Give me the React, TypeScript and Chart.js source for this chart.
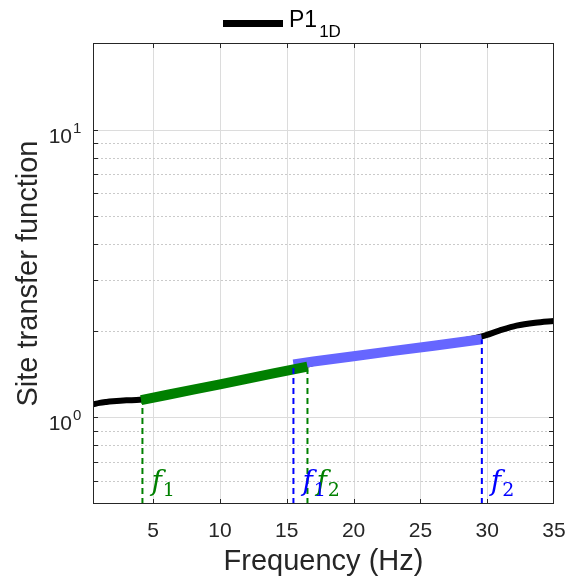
import React, { useEffect, useRef } from 'react';
import { Chart, registerables } from 'chart.js';

Chart.register(...registerables);

// ---------- data ----------
const freqBlack = [0.5, 1, 1.5, 2, 3, 4, 6, 8, 10, 12, 14, 16, 18, 20, 23, 26, 29.6, 30.9, 32.2, 33.6, 35];
const tfBlack = [1.11, 1.123, 1.131, 1.137, 1.146, 1.151, 1.196, 1.249, 1.303, 1.361, 1.421, 1.5, 1.585, 1.632, 1.705, 1.778, 1.912, 2.002, 2.084, 2.134, 2.164];

const freqGreen = [4.1, 6, 8, 10, 12, 14, 16.55];
const tfGreen = [1.148, 1.196, 1.249, 1.303, 1.361, 1.421, 1.5];

const freqBlue = [15.5, 17, 20, 23, 26, 29.6];
const tfBlue = [1.528, 1.563, 1.63, 1.703, 1.775, 1.869];

// vertical markers: frequency, curve value at top, colour, subscript
const markerFreq = [4.2, 16.55, 15.5, 29.6];
const markerTop = [1.15, 1.5, 1.528, 1.87];
const markerColor = ['#008000', '#008000', '#0000ff', '#0000ff'];
const markerSub = ['1', '2', '1', '2'];

const xTickStep = 5;
const xMin = 0.5;
const xMax = 35;
const yMin = 0.5;
const yMax = 20;
const yTickValues = [1, 10];
const yTickExps = ['0', '1'];

const legendMain = 'P1';
const legendSub = '1D';
const xTitle = 'Frequency (Hz)';
const yTitle = 'Site transfer function';

const SANS = '"Liberation Sans", Arial, sans-serif';
const SERIF = '"DejaVu Serif", "Liberation Serif", serif';
const TXT = '#262626';

const toPts = (xs: number[], ys: number[]) => xs.map((x, i) => ({ x, y: ys[i] }));

const isDecadeStep = (v: number) => {
  const e = Math.floor(Math.log10(v) + 1e-9);
  const s = v / Math.pow(10, e);
  return Math.abs(s - Math.round(s)) < 1e-6;
};

const decor = {
  id: 'decor',
  beforeDatasetsDraw(chart: any) {
    const { ctx, chartArea: a, scales } = chart;
    const xs = scales.x;
    const ys = scales.y;
    ctx.save();
    ctx.lineWidth = 1;
    ctx.strokeStyle = '#dcdcdc';
    ctx.setLineDash([]);
    for (const t of xs.ticks) {
      if (t.value <= xs.min || t.value >= xs.max) continue;
      const px = Math.round(xs.getPixelForValue(t.value)) + 0.5;
      ctx.beginPath();
      ctx.moveTo(px, a.top);
      ctx.lineTo(px, a.bottom);
      ctx.stroke();
    }
    for (const t of ys.ticks) {
      const v = t.value;
      if (v <= ys.min || v >= ys.max || !isDecadeStep(v)) continue;
      const py = Math.round(ys.getPixelForValue(v)) + 0.5;
      const lg = Math.log10(v);
      const major = Math.abs(lg - Math.round(lg)) < 1e-9;
      if (major) {
        ctx.setLineDash([]);
        ctx.strokeStyle = '#dcdcdc';
      } else {
        ctx.setLineDash([2, 2]);
        ctx.strokeStyle = '#cacaca';
      }
      ctx.beginPath();
      ctx.moveTo(a.left, py);
      ctx.lineTo(a.right, py);
      ctx.stroke();
    }
    ctx.restore();
  },
  afterDatasetsDraw(chart: any) {
    const { ctx, chartArea: a, scales } = chart;
    const xs = scales.x;
    const ys = scales.y;
    ctx.save();
    // frame
    ctx.setLineDash([]);
    ctx.strokeStyle = TXT;
    ctx.lineWidth = 1;
    ctx.strokeRect(a.left + 0.5, a.top + 0.5, a.right - a.left - 1, a.bottom - a.top - 1);
    // inward ticks
    const tl = 5;
    ctx.beginPath();
    for (const t of xs.ticks) {
      if (t.value <= xs.min || t.value >= xs.max) continue;
      const px = Math.round(xs.getPixelForValue(t.value)) + 0.5;
      ctx.moveTo(px, a.bottom);
      ctx.lineTo(px, a.bottom - tl);
      ctx.moveTo(px, a.top);
      ctx.lineTo(px, a.top + tl);
    }
    for (const t of ys.ticks) {
      if (t.value <= ys.min || t.value >= ys.max || !isDecadeStep(t.value)) continue;
      const py = Math.round(ys.getPixelForValue(t.value)) + 0.5;
      ctx.moveTo(a.left, py);
      ctx.lineTo(a.left + tl, py);
      ctx.moveTo(a.right, py);
      ctx.lineTo(a.right - tl, py);
    }
    ctx.stroke();

    // y tick labels 10^n
    ctx.fillStyle = TXT;
    yTickValues.forEach((v, i) => {
      const py = ys.getPixelForValue(v);
      ctx.font = `21px ${SANS}`;
      ctx.textAlign = 'right';
      ctx.textBaseline = 'alphabetic';
      ctx.fillText('10', 72, py + 13);
      ctx.font = `15px ${SANS}`;
      ctx.textAlign = 'left';
      ctx.fillText(yTickExps[i], 73, py + 3);
    });

    // legend
    ctx.lineWidth = 7;
    ctx.strokeStyle = '#000';
    ctx.beginPath();
    ctx.moveTo(223, 23.5);
    ctx.lineTo(283, 23.5);
    ctx.stroke();
    ctx.fillStyle = '#000';
    ctx.textAlign = 'left';
    ctx.textBaseline = 'alphabetic';
    ctx.font = `23px ${SANS}`;
    ctx.fillText(legendMain, 289, 27);
    const w = ctx.measureText(legendMain).width;
    ctx.font = `17px ${SANS}`;
    ctx.fillText(legendSub, 289 + w + 2, 37);

    // f labels
    markerFreq.forEach((f, i) => {
      const px = xs.getPixelForValue(f) + 9;
      ctx.fillStyle = markerColor[i];
      ctx.font = `italic 28px ${SERIF}`;
      ctx.fillText('f', px, 490);
      const fw = ctx.measureText('f').width;
      ctx.font = `19px ${SERIF}`;
      ctx.fillText(markerSub[i], px + fw + 1, 496);
    });
    ctx.restore();
  },
};

export default function App() {
  const ref = useRef<HTMLCanvasElement>(null);
  useEffect(() => {
    const canvas = ref.current;
    if (!canvas) return;
    const markerSets = markerFreq.map((f, i) => ({
      label: 'marker' + i,
      data: [
        { x: f, y: yMin },
        { x: f, y: markerTop[i] },
      ],
      borderColor: markerColor[i],
      borderWidth: 2,
      borderDash: [6, 4],
      pointRadius: 0,
      tension: 0,
      order: 1,
    }));
    const chart = new Chart(canvas, {
      type: 'line',
      data: {
        datasets: [
          {
            label: 'P1_1D',
            data: toPts(freqBlack, tfBlack),
            borderColor: '#000000',
            borderWidth: 6,
            pointRadius: 0,
            cubicInterpolationMode: 'monotone',
            order: 4,
          },
          {
            label: 'blue',
            data: toPts(freqBlue, tfBlue),
            borderColor: '#6666ff',
            borderWidth: 10,
            pointRadius: 0,
            tension: 0,
            order: 3,
          },
          {
            label: 'green',
            data: toPts(freqGreen, tfGreen),
            borderColor: '#008000',
            borderWidth: 10,
            pointRadius: 0,
            tension: 0,
            order: 2,
          },
          ...markerSets,
        ] as any,
      },
      options: {
        animation: false,
        responsive: true,
        maintainAspectRatio: false,
        layout: { padding: { top: 43, right: 15, left: 0, bottom: 0 } },
        plugins: { legend: { display: false }, tooltip: { enabled: false } },
        scales: {
          x: {
            type: 'linear',
            min: xMin,
            max: xMax,
            grid: { display: false },
            border: { display: false },
            ticks: {
              stepSize: xTickStep,
              includeBounds: false,
              font: { size: 21, family: SANS },
              color: TXT,
              padding: 7,
              maxRotation: 0,
              autoSkip: false,
            },
            title: {
              display: true,
              text: xTitle,
              font: { size: 29, family: SANS },
              color: TXT,
              padding: { top: 0, bottom: 1 },
            },
            afterFit: (s: any) => {
              s.height = 76;
              s.paddingLeft = 0;
              s.paddingRight = 0;
            },
          },
          y: {
            type: 'logarithmic',
            min: yMin,
            max: yMax,
            grid: { display: false },
            border: { display: false },
            ticks: { display: false },
            title: {
              display: true,
              text: yTitle,
              font: { size: 29, family: SANS },
              color: TXT,
              padding: { top: 12, bottom: 0 },
            },
            afterFit: (s: any) => {
              s.width = 93;
              s.paddingTop = 0;
              s.paddingBottom = 0;
            },
          },
        },
      } as any,
      plugins: [decor],
    });
    return () => chart.destroy();
  }, []);
  return (
    <div style={{ position: 'absolute', left: 0, top: 0, width: 569, height: 580, background: '#fff' }}>
      <canvas ref={ref} />
    </div>
  );
}
